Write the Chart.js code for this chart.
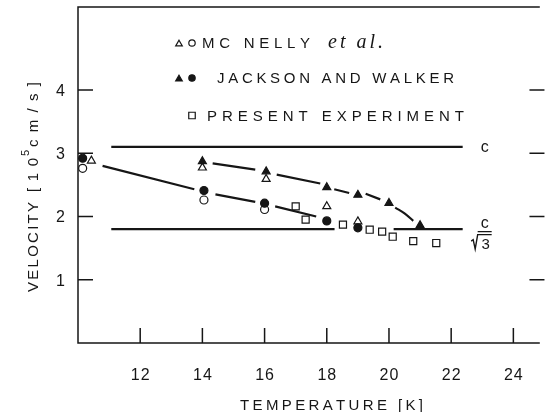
<!DOCTYPE html>
<html>
<head>
<meta charset="utf-8">
<script src="https://cdn.jsdelivr.net/npm/chart.js"></script>
<style>
  html, body { margin: 0; padding: 0; background: #fff; }
  #wrap { width: 546px; height: 412px; }
</style>
</head>
<body>
<div id="wrap">
    <canvas id="velChart"></canvas>
</div>

<script>
    // values: temperature [K] vs velocity [1e5 cm/s]
    const xTicks = [12, 14, 16, 18, 20, 22, 24];
    const yTicks = [1, 2, 3, 4];

    const mcNellyTriangles = [
        {x: 10.43, y: 2.88}, {x: 14.0, y: 2.77}, {x: 16.05, y: 2.59},
        {x: 18.0, y: 2.16}, {x: 19.0, y: 1.92}
    ];
    const mcNellyCircles = [
        {x: 10.15, y: 2.76}, {x: 14.05, y: 2.26}, {x: 16.0, y: 2.11}
    ];
    const jacksonTriangles = [
        {x: 14.0, y: 2.87}, {x: 16.05, y: 2.71}, {x: 18.0, y: 2.46},
        {x: 19.0, y: 2.34}, {x: 20.0, y: 2.21}, {x: 21.0, y: 1.86}
    ];
    const jacksonCircles = [
        {x: 10.15, y: 2.92}, {x: 14.05, y: 2.41}, {x: 16.0, y: 2.21},
        {x: 18.0, y: 1.93}, {x: 19.0, y: 1.82}
    ];
    const presentSquares = [
        {x: 17.0, y: 2.16}, {x: 17.32, y: 1.95}, {x: 18.52, y: 1.87}, {x: 19.38, y: 1.79},
        {x: 19.78, y: 1.76}, {x: 20.12, y: 1.68}, {x: 20.78, y: 1.61}, {x: 21.52, y: 1.58}
    ];

    // reference lines c and c/sqrt(3), null = break in the line
    const cLine = [{x: 11.07, y: 3.10}, {x: 22.37, y: 3.10}];
    const cSqrt3Line = [
        {x: 11.07, y: 1.80}, {x: 18.25, y: 1.80}, {x: 19.2, y: null},
        {x: 20.15, y: 1.80}, {x: 22.37, y: 1.80}
    ];
    // solid guide through the filled circles
    const solidGuide = [
        {x: 10.79, y: 2.80}, {x: 13.74, y: 2.43}, {x: 14.05, y: null},
        {x: 14.42, y: 2.35}, {x: 15.7, y: 2.23}, {x: 16.0, y: null},
        {x: 16.34, y: 2.16}, {x: 17.66, y: 2.00}
    ];
    // dashed guide through the filled triangles
    const dashedGuide = [
        {x: 14.33, y: 2.84}, {x: 15.7, y: 2.74}, {x: 16.0, y: null},
        {x: 16.39, y: 2.66}, {x: 17.79, y: 2.52}, {x: 18.0, y: null},
        {x: 18.24, y: 2.43}, {x: 18.72, y: 2.37}, {x: 19.0, y: null},
        {x: 19.25, y: 2.36}, {x: 19.72, y: 2.27}
    ];
    const dashedTail = [{x: 20.2, y: 2.14}, {x: 20.5, y: 2.05}, {x: 20.78, y: 1.93}];

    const ink = '#161616';
    const sans = '"Liberation Sans", Arial, sans-serif';

    function spacedWidth(ctx, s, sp) {
        let w = 0;
        for (const ch of s) w += ctx.measureText(ch).width + sp;
        return w - sp;
    }
    function drawSpaced(ctx, s, x, y, sp) {
        for (const ch of s) {
            ctx.fillText(ch, x, y);
            x += ctx.measureText(ch).width + sp;
        }
        return x;
    }
    // text stretched to a width seen in the figure
    function drawFitted(ctx, s, x, y, width) {
        const n = Array.from(s).length;
        const sp = (width - spacedWidth(ctx, s, 0)) / (n - 1);
        return drawSpaced(ctx, s, x, y, sp);
    }

    const decorations = {
        id: 'decorations',
        afterDraw(chart) {
            const {ctx, chartArea: a, scales: {x, y}} = chart;
            const xRight = x.getPixelForValue(25);
            ctx.save();
            ctx.strokeStyle = ink;
            ctx.fillStyle = ink;
            ctx.lineWidth = 1.5;

            // frame (right side falls outside the picture)
            ctx.beginPath();
            ctx.moveTo(a.right, a.top);
            ctx.lineTo(a.left, a.top);
            ctx.lineTo(a.left, a.bottom);
            ctx.lineTo(a.right, a.bottom);
            ctx.stroke();

            // inward ticks
            ctx.beginPath();
            xTicks.forEach(v => {
                const px = x.getPixelForValue(v);
                ctx.moveTo(px, a.bottom);
                ctx.lineTo(px, a.bottom - 15);
            });
            yTicks.forEach(v => {
                const py = y.getPixelForValue(v);
                ctx.moveTo(a.left, py);
                ctx.lineTo(a.left + 15, py);
                ctx.moveTo(xRight - 15, py);
                ctx.lineTo(xRight, py);
            });
            ctx.stroke();

            // tick labels
            ctx.font = '16px ' + sans;
            ctx.textBaseline = 'alphabetic';
            xTicks.forEach(v => {
                const s = String(v);
                const w = spacedWidth(ctx, s, 1);
                drawSpaced(ctx, s, x.getPixelForValue(v) - w / 2, 380, 1);
            });
            yTicks.forEach(v => {
                const s = String(v);
                const w = ctx.measureText(s).width;
                ctx.fillText(s, 65 - w, y.getPixelForValue(v) + 6);
            });

            // x title
            ctx.font = '15px ' + sans;
            drawFitted(ctx, 'TEMPERATURE [K]', 240, 410, 183);

            // y title, rotated
            ctx.save();
            ctx.translate(37.5, 187);
            ctx.rotate(-Math.PI / 2);
            ctx.font = '15px ' + sans;
            drawFitted(ctx, 'VELOCITY', -105, 0, 90);
            drawFitted(ctx, '[10', -5, 0, 34);
            ctx.font = '11px ' + sans;
            ctx.fillText('5', 31, -9);
            ctx.font = '15px ' + sans;
            drawFitted(ctx, 'cm/s]', 40, 0, 65);
            ctx.restore();

            // labels for the two reference lines
            const lx = x.getPixelForValue(22.37) + 22;
            ctx.font = '16px ' + sans;
            ctx.textAlign = 'center';
            ctx.fillText('c', lx, y.getPixelForValue(3.10) + 5);
            ctx.fillText('c', lx, y.getPixelForValue(1.80) - 1);
            ctx.lineWidth = 1.4;
            ctx.beginPath();
            ctx.moveTo(lx - 7, y.getPixelForValue(1.80) + 2.5);
            ctx.lineTo(lx + 7, y.getPixelForValue(1.80) + 2.5);
            const ry = y.getPixelForValue(1.80);
            ctx.moveTo(lx - 13.5, ry + 12);
            ctx.lineTo(lx - 11.5, ry + 10.5);
            ctx.lineTo(lx - 9.5, ry + 20);
            ctx.lineTo(lx - 7, ry + 5.5);
            ctx.lineTo(lx + 7, ry + 5.5);
            ctx.stroke();
            ctx.font = '15px ' + sans;
            ctx.fillText('3', lx + 1, ry + 20);
            ctx.textAlign = 'left';

            // legend
            const mark = (style, filled, px, py, r) => {
                ctx.fillStyle = filled ? ink : '#fff';
                ctx.lineWidth = 1.2;
                Chart.helpers.drawPoint(ctx, {pointStyle: style, radius: r, rotation: 0, borderWidth: 1.2}, px, py);
            };
            mark('triangle', false, 179, 44, 3.8);
            mark('circle', false, 192, 43, 3.2);
            mark('triangle', true, 179, 79, 3.8);
            mark('circle', true, 192, 78, 3.2);
            mark('rect', false, 192, 115.5, 4.6);
            ctx.fillStyle = ink;
            ctx.font = '15px ' + sans;
            drawFitted(ctx, 'MC NELLY', 202, 48, 108);
            drawFitted(ctx, 'JACKSON AND WALKER', 217, 83, 237);
            drawFitted(ctx, 'PRESENT EXPERIMENT', 207, 121, 257);
            ctx.font = 'italic 20px "Liberation Serif", serif';
            drawFitted(ctx, 'et al.', 328, 48, 55);
            ctx.restore();
        }
    };

    const lineSet = (data, extra) => Object.assign({
        data: data,
        showLine: true,
        pointRadius: 0,
        borderColor: ink,
        borderWidth: 2.2,
        spanGaps: false,
        order: 2
    }, extra || {});

    const markSet = (data, style, filled, r) => ({
        data: data,
        showLine: false,
        pointStyle: style,
        pointRadius: r,
        pointBorderWidth: 1.2,
        pointBorderColor: ink,
        pointBackgroundColor: filled ? ink : '#fff',
        order: filled ? 0 : 1
    });

    new Chart(document.getElementById('velChart'), {
        type: 'scatter',
        data: {
            datasets: [
                lineSet(cLine, {borderWidth: 2.4}),
                lineSet(cSqrt3Line, {borderWidth: 2.4}),
                lineSet(solidGuide),
                lineSet(dashedGuide),
                lineSet(dashedTail, {tension: 0.4}),
                markSet(mcNellyTriangles, 'triangle', false, 4.6),
                markSet(mcNellyCircles, 'circle', false, 4),
                markSet(jacksonTriangles, 'triangle', true, 4.6),
                markSet(jacksonCircles, 'circle', true, 4),
                markSet(presentSquares, 'rect', false, 5)
            ]
        },
        options: {
            responsive: true,
            maintainAspectRatio: false,
            animation: false,
            devicePixelRatio: 1,
            layout: {padding: {left: 78, top: 7, right: 0, bottom: 69}},
            scales: {
                x: {type: 'linear', min: 10, max: 24.85, display: false},
                y: {type: 'linear', min: 0, max: 5.31, display: false}
            },
            plugins: {
                legend: {display: false},
                tooltip: {enabled: false}
            }
        },
        plugins: [decorations]
    });
</script>
</body>
</html>
